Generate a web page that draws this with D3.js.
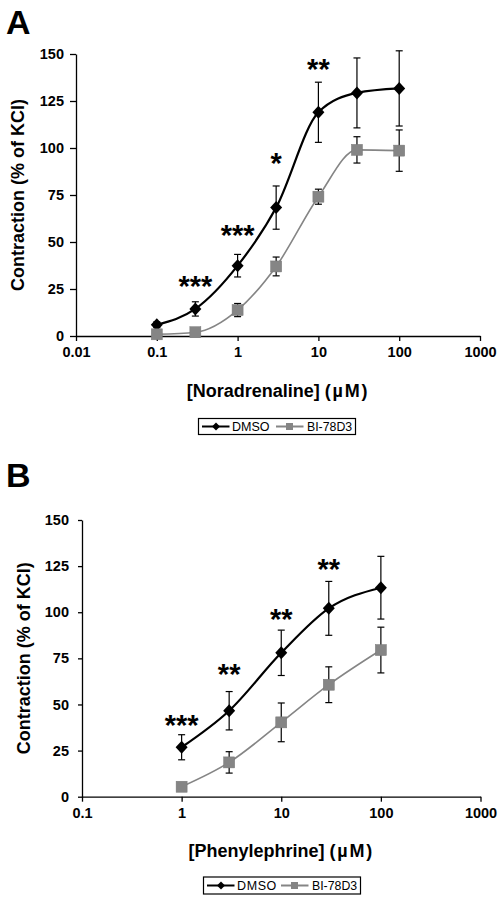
<!DOCTYPE html>
<html><head><meta charset="utf-8">
<script src="https://cdn.jsdelivr.net/npm/d3@7"></script>
<style>body{margin:0;background:#fff} svg{display:block} text{font-family:"Liberation Sans",Arial,sans-serif}</style>
</head><body><svg id="c" width="502" height="905"></svg>
<script>
// Panel A: Noradrenaline
const concA = [0.1, 0.3, 1, 3, 10, 30, 100];
const dmsoA = [6, 14.4, 37.4, 68.3, 119, 129.3, 131.7];
const dmsoErrA = [1.5, 3.8, 6, 11.5, 16, 18.6, 20];
const biA = [0.9, 2, 13.8, 37, 74.1, 99, 98.6];
const biErrA = [1, 1, 3.5, 5, 4, 7, 11];
const starXA = [0.3, 1, 3, 10];
const starYA = [30, 57, 95, 145];
const starTA = ["***", "***", "*", "**"];
const xTicksA = [0.01, 0.1, 1, 10, 100, 1000];
const xTickLabelsA = ["0.01", "0.1", "1", "10", "100", "1000"];

// Panel B: Phenylephrine
const concB = [1, 3, 10, 30, 100];
const dmsoB = [26.8, 46.6, 78, 102.1, 113.3];
const dmsoErrB = [6.8, 10.4, 12.3, 14.6, 17];
const biB = [5.4, 18.6, 40.3, 60.7, 79.5];
const biErrB = [0.8, 5.8, 10.5, 9.7, 12.4];
const starXB = [1, 3, 10, 30];
const starYB = [42, 70, 99.5, 126.5];
const starTB = ["***", "**", "**", "**"];
const xTicksB = [0.1, 1, 10, 100, 1000];
const xTickLabelsB = ["0.1", "1", "10", "100", "1000"];

const yTicks = [0, 25, 50, 75, 100, 125, 150];
const seriesNames = ["DMSO", "BI-78D3"];
const yTitle = "Contraction (% of KCl)";

const svg = d3.select("#c");
const GRAY = "#858585";

function panel(cfg) {
  const g = svg.append("g");
  const x = d3.scaleLog().domain([cfg.xTicks[0], cfg.xTicks[cfg.xTicks.length - 1]]).range([cfg.x0, cfg.x1]);
  const y = d3.scaleLinear().domain([0, 150]).range([cfg.y0, cfg.y1]);

  g.append("text").attr("x", 6).attr("y", cfg.letterY).attr("font-size", 34).attr("font-weight", "bold").text(cfg.letter);

  const xa = g.append("g").attr("transform", `translate(0,${cfg.y0})`)
    .call(d3.axisBottom(x).tickValues(cfg.xTicks).tickFormat((d, i) => cfg.xLabels[i]).tickSize(5).tickPadding(6).tickSizeOuter(0));
  const ya = g.append("g").attr("transform", `translate(${cfg.x0},0)`)
    .call(d3.axisLeft(y).tickValues(yTicks).tickSize(cfg.ytick).tickPadding(cfg.ypad).tickSizeOuter(0));
  [xa, ya].forEach(a => {
    a.selectAll("path,line").attr("stroke", "#000").attr("stroke-width", 1.3);
    a.selectAll("text").attr("font-size", 14.5).attr("font-weight", "bold").attr("fill", "#000").attr("font-family", '"Liberation Sans",Arial,sans-serif');
  });

  const xt = g.append("text").attr("x", (cfg.x0 + cfg.x1) / 2).attr("y", cfg.xTitleY).attr("text-anchor", "middle")
    .attr("font-size", 18).attr("font-weight", "bold");
  xt.append("tspan").text(cfg.xTitle[0]);
  xt.append("tspan").attr("letter-spacing", 1.8).text(cfg.xTitle[1]);
  g.append("text").attr("transform", `translate(${cfg.yTitleX},${(cfg.y0 + cfg.y1) / 2}) rotate(-90)`).attr("text-anchor", "middle")
    .attr("font-size", 18).attr("font-weight", "bold").text(yTitle);

  const line = d3.line().x(d => x(d[0])).y(d => y(d[1])).curve(d3.curveMonotoneX);
  const series = [
    { v: cfg.dmso, e: cfg.dmsoErr, color: "#000", w: 2.2, shape: "diamond" },
    { v: cfg.bi, e: cfg.biErr, color: GRAY, w: 1.6, shape: "square" }
  ];
  series.forEach(s => {
    const pts = cfg.conc.map((c, i) => [c, s.v[i], s.e[i]]);
    const eb = g.append("g").attr("stroke", "#000").attr("stroke-width", 1.2);
    pts.forEach(p => {
      const xx = x(p[0]), yt = y(p[1] + p[2]), yb = y(p[1] - p[2]);
      eb.append("line").attr("x1", xx).attr("x2", xx).attr("y1", yt).attr("y2", yb);
      eb.append("line").attr("x1", xx - 3.5).attr("x2", xx + 3.5).attr("y1", yt).attr("y2", yt);
      eb.append("line").attr("x1", xx - 3.5).attr("x2", xx + 3.5).attr("y1", yb).attr("y2", yb);
    });
    g.append("path").datum(pts).attr("d", line).attr("fill", "none").attr("stroke", s.color).attr("stroke-width", s.w);
    pts.forEach(p => {
      const xx = x(p[0]), yy = y(p[1]);
      if (s.shape === "diamond") {
        g.append("path").attr("d", `M${xx},${yy - 6.5}L${xx + 6},${yy}L${xx},${yy + 6.5}L${xx - 6},${yy}Z`).attr("fill", "#000");
      } else {
        g.append("rect").attr("x", xx - 5.5).attr("y", yy - 5.5).attr("width", 11).attr("height", 11).attr("fill", GRAY).attr("stroke", "#777").attr("stroke-width", 0.5);
      }
    });
  });

  cfg.starX.forEach((sx, i) => {
    g.append("text").attr("x", x(sx)).attr("y", y(cfg.starY[i]) + 16).attr("text-anchor", "middle")
      .attr("font-size", 29).attr("font-weight", "bold").text(cfg.starT[i]);
  });

  const L = cfg.legend;
  const lg = g.append("g").attr("transform", `translate(${L.x},${L.y})`);
  lg.append("rect").attr("width", 157).attr("height", L.h).attr("fill", "#fff").attr("stroke", "#000").attr("stroke-width", 1.2);
  const my = L.h / 2;
  lg.append("line").attr("x1", 3.5).attr("x2", 31).attr("y1", my).attr("y2", my).attr("stroke", "#000").attr("stroke-width", 2);
  lg.append("path").attr("d", `M17.5,${my - 4}L21.5,${my}L17.5,${my + 4}L13.5,${my}Z`).attr("fill", "#000");
  lg.append("text").attr("x", 33.5).attr("y", my + 4.5).attr("font-size", 12.5).attr("letter-spacing", L.ls).text(seriesNames[0]);
  lg.append("line").attr("x1", 77.5).attr("x2", 105).attr("y1", my).attr("y2", my).attr("stroke", GRAY).attr("stroke-width", 2);
  lg.append("rect").attr("x", 87.5).attr("y", my - 3.5).attr("width", 7).attr("height", 7).attr("fill", GRAY);
  lg.append("text").attr("x", 108.5).attr("y", my + 4.5).attr("font-size", 12.3).text(seriesNames[1]);
}

panel({
  letter: "A", letterY: 34, x0: 76, x1: 480, y0: 336, y1: 54, ytick: 6, ypad: 6,
  xTicks: xTicksA, xLabels: xTickLabelsA, xTitle: ["[Noradrenaline] ", "(\u00B5M)"], xTitleY: 397, yTitleX: 24,
  conc: concA, dmso: dmsoA, dmsoErr: dmsoErrA, bi: biA, biErr: biErrA,
  starX: starXA, starY: starYA, starT: starTA,
  legend: { x: 198.5, y: 418.5, h: 16, ls: 0 }
});
panel({
  letter: "B", letterY: 487, x0: 82, x1: 480.5, y0: 796.7, y1: 520, ytick: 4, ypad: 9,
  xTicks: xTicksB, xLabels: xTickLabelsB, xTitle: ["[Phenylephrine] ", "(\u00B5M)"], xTitleY: 857, yTitleX: 30,
  conc: concB, dmso: dmsoB, dmsoErr: dmsoErrB, bi: biB, biErr: biErrB,
  starX: starXB, starY: starYB, starT: starTB,
  legend: { x: 203.5, y: 877, h: 17, ls: 0.6 }
});
</script></body></html>
